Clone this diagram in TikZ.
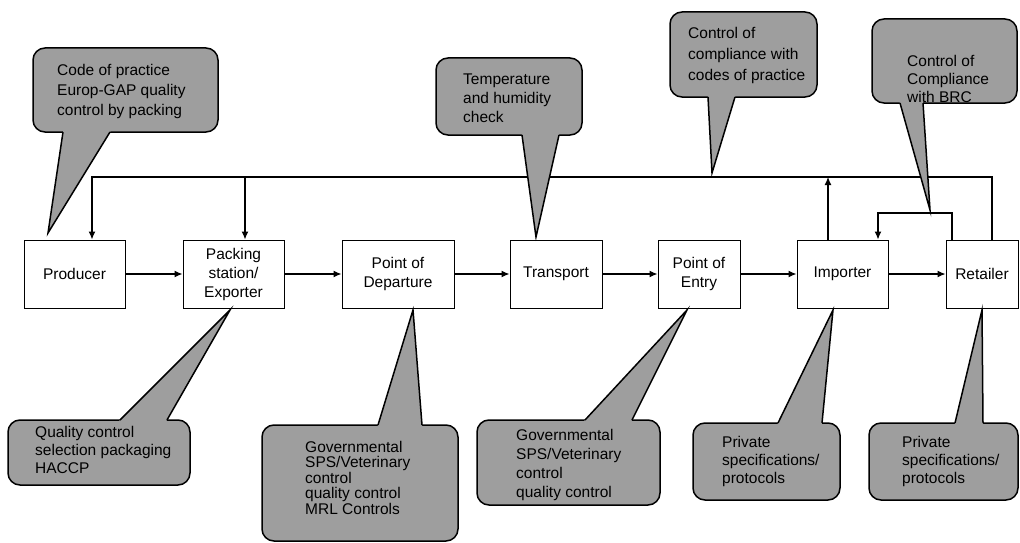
\documentclass[tikz,border=0pt]{standalone}
\usepackage{fontspec}
\setmainfont{Liberation Sans}
\usetikzlibrary{arrows.meta,calc}
\definecolor{cogray}{gray}{0.62}
\newcommand{\mycallout}[6]{%
  \path[cobox] (#2) rectangle (#3);
  \coordinate (#1a) at (#4);
  \coordinate (#1b) at (#5);
  \coordinate (#1p) at (#6);
  \fill[cogray] ($(#1a)!-5pt!(#1p)$) -- (#1p) -- ($(#1b)!-5pt!(#1p)$) -- cycle;
  \draw[coline] (#1a) -- (#1p) -- (#1b);
}
\begin{document}
\begin{tikzpicture}[x=1pt,y=-1pt,
  box/.style={draw, line width=1pt, minimum height=68pt, inner sep=2pt, align=center,
    font=\fontsize{15.5}{19}\selectfont},
  arr/.style={line width=1.2pt, -{Latex[length=8pt,width=7pt]}},
  ln/.style={line width=1.2pt},
  cobox/.style={draw, line width=1.5pt, rounded corners=12pt, fill=cogray},
  coline/.style={line width=1.5pt, line join=miter},
  cotext/.style={anchor=north west, inner sep=0pt, align=left}
]
\useasboundingbox (0,0) rectangle (1020,543);
% process boxes
\node[box, minimum width=101pt] (prod)  at (74.5,274) {Producer};
\node[box, minimum width=101pt] (pack)  at (233.5,274) {Packing\\station/\\Exporter};
\node[box, minimum width=112pt] (dep)   at (398,274) {Point of\\Departure};
\node[box, minimum width=92pt]  (trans) at (556,274) {Transport};
\node[box, minimum width=82pt]  (entry) at (699,274) {Point of\\Entry};
\node[box, minimum width=91pt]  (imp)   at (842.5,274) {Importer};
\node[box, minimum width=72pt]  (ret)   at (982,274) {Retailer};
% main flow
\draw[arr] (prod) -- (pack);
\draw[arr] (pack) -- (dep);
\draw[arr] (dep) -- (trans);
\draw[arr] (trans) -- (entry);
\draw[arr] (entry) -- (imp);
\draw[arr] (imp) -- (ret);
% feedback lines
\coordinate (tl) at (92,177);
\coordinate (tr) at (992,177);
\coordinate (tp) at (245,177);
\coordinate (ti) at (828,177);
\coordinate (la) at (952,213);
\coordinate (lb) at (878,213);
\draw[arr] (ret.north -| tr) -- (tr) -- (tl) -- (tl |- prod.north);
\draw[arr] (tp) -- (tp |- pack.north);
\draw[arr] (ti |- imp.north) -- (ti);
\draw[arr] (ret.north -| la) -- (la) -- (lb) -- (lb |- imp.north);
% callouts
\mycallout{c1}{33,48}{218,132}{63,132}{110,132}{48,233}
\node[cotext, font=\fontsize{15.5}{20}\selectfont] (c1t) at (57,64) {Code of practice\\Europ-GAP quality\\control by packing};
\mycallout{c2}{436,58}{582,135}{522,135}{559,135}{536,237}
\node[cotext, font=\fontsize{15.5}{19}\selectfont] (c2t) at (463,74) {Temperature\\and humidity\\check};
\mycallout{c3}{670,12}{817,97}{708,97}{735,97}{712,173}
\node[cotext, font=\fontsize{15.5}{21}\selectfont] (c3t) at (688,27) {Control of\\compliance with\\codes of practice};
\mycallout{c4}{872,19}{1017,103}{900,103}{923,103}{930,210}
\node[cotext, font=\fontsize{15.5}{18}\selectfont] (c4t) at (907,55) {Control of\\Compliance\\with BRC};
\mycallout{c5}{8,420}{190,485}{120,420}{167,420}{230,310}
\node[cotext, font=\fontsize{15.5}{18}\selectfont] (c5t) at (35,426) {Quality control\\selection packaging\\HACCP};
\mycallout{c6}{262,425}{458,541}{378,425}{422,425}{413,310}
\node[cotext, font=\fontsize{15.5}{15.5}\selectfont] (c6t) at (305,441) {Governmental\\SPS/Veterinary\\control\\quality control\\MRL Controls};
\mycallout{c7}{477,420}{660,505}{585,420}{632,420}{687,310}
\node[cotext, font=\fontsize{15.5}{19}\selectfont] (c7t) at (516,429) {Governmental\\SPS/Veterinary\\control\\quality control};
\mycallout{c8}{693,423}{840,500}{778,423}{822,423}{833,310}
\node[cotext, font=\fontsize{15.5}{18}\selectfont] (c8t) at (722,436) {Private\\specifications/\\protocols};
\mycallout{c9}{869,423}{1018,500}{955,423}{983,423}{982,310}
\node[cotext, font=\fontsize{15.5}{18}\selectfont] (c9t) at (902,436) {Private\\specifications/\\protocols};
\end{tikzpicture}
\end{document}
